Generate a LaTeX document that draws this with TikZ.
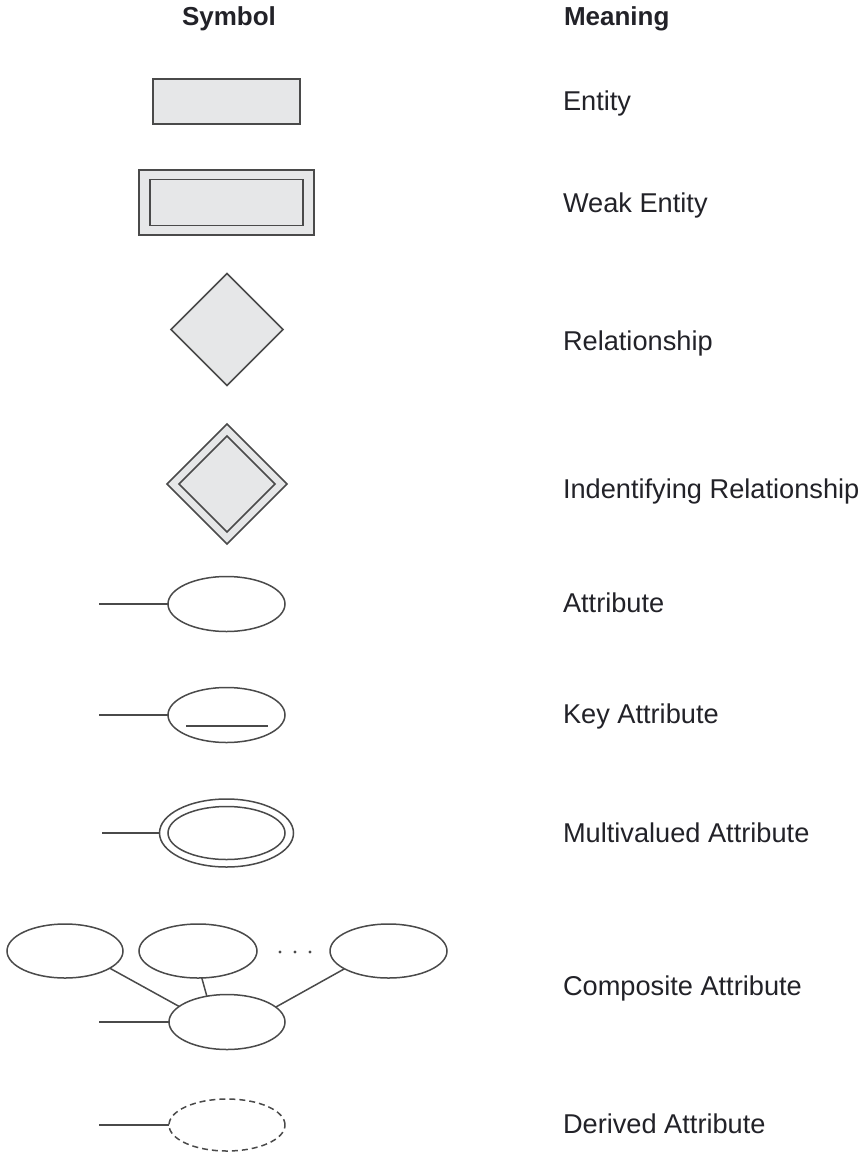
\documentclass[tikz,border=0pt]{standalone}
\usepackage{fontspec}
\setmainfont{Liberation Sans}
\usetikzlibrary{shapes.geometric}
\definecolor{strk}{HTML}{4A4A4A}
\definecolor{shade}{HTML}{E6E7E8}
\definecolor{txt}{HTML}{222228}
\begin{document}
\begin{tikzpicture}[x=1pt,y=-1pt,
  every node/.style={inner sep=0pt,outer sep=0pt},
  sym/.style={draw=strk,line width=1.5pt},
  box/.style={sym,fill=shade,rectangle},
  dia/.style={sym,fill=shade,diamond,aspect=1},
  oval/.style={sym,fill=white,ellipse,minimum width=117pt,minimum height=55pt},
  lbl/.style={anchor=base west,text=txt,font=\fontsize{27.2}{30}\selectfont},
  hdr/.style={text=txt,font=\fontsize{26}{30}\selectfont\bfseries},
  conn/.style={draw=strk,line width=1.5pt}]
\useasboundingbox (0,0) rectangle (864,1156);
% headers
\node[hdr,anchor=base] (hsym) at (229,26) {Symbol};
\node[hdr,anchor=base west] (hmean) at (564,26) {Meaning};
% entity
\node[box,minimum width=147pt,minimum height=45pt] (ent) at (226.5,101.5) {};
\node[lbl] (lent) at (563,110) {Entity};
% weak entity
\node[box,minimum width=175pt,minimum height=65pt] (went) at (226.5,202.5) {};
\node[box,minimum width=153pt,minimum height=46pt] (wenti) at (226.5,202.5) {};
\node[lbl] (lwent) at (563,212) {Weak Entity};
% relationship
\node[dia,minimum width=112pt,minimum height=112pt] (rel) at (227,329.5) {};
\node[lbl] (lrel) at (563,350) {Relationship};
% identifying relationship
\node[dia,minimum width=120pt,minimum height=120pt] (irel) at (227,484) {};
\node[dia,minimum width=96pt,minimum height=96pt] (ireli) at (227,484) {};
\node[lbl] (lirel) at (563,498) {Indentifying Relationship};
% attribute
\node[oval] (att) at (226.5,604) {};
\coordinate (attl) at (99,604);
\draw[conn] (attl) -- (att.west);
\node[lbl] (latt) at (563,612) {Attribute};
% key attribute
\node[oval] (katt) at (226.5,715) {};
\coordinate (kattl) at (99,715);
\draw[conn] (kattl) -- (katt.west);
\coordinate (ku1) at (186,726);
\coordinate (ku2) at (268,726);
\draw[conn] (ku1) -- (ku2);
\node[lbl] (lkatt) at (563,723) {Key Attribute};
% multivalued
\node[oval,minimum width=134pt,minimum height=68pt] (matt) at (226.5,833) {};
\node[oval,minimum width=117pt,minimum height=53pt] (matti) at (226.5,833) {};
\coordinate (mattl) at (102,833);
\draw[conn] (mattl) -- (matt.west);
\node[lbl] (lmatt) at (563,842) {Multivalued Attribute};
% composite
\node[oval,minimum width=116pt,minimum height=54pt] (c1) at (65,951) {};
\node[oval,minimum width=118pt,minimum height=54pt] (c2) at (198,951) {};
\node[oval,minimum width=117pt,minimum height=54pt] (c3) at (388.5,951) {};
\node[oval,minimum width=116pt,minimum height=55pt] (cm) at (227,1022) {};
\draw[conn] (c1.-21) -- (cm.162);
\draw[conn] (c2.-82) -- (cm.128);
\draw[conn] (c3.202) -- (cm.17);
\coordinate (cml) at (99,1022);
\draw[conn] (cml) -- (cm.west);
\foreach \i/\xx in {1/280,2/295,3/310}{
  \fill[strk] (\xx,952) circle (1.7pt);
}
\node[lbl] (lcatt) at (563,995) {Composite Attribute};
% derived
\node[oval,dashed,dash pattern=on 6pt off 4pt,minimum width=116pt,minimum height=52pt] (datt) at (227,1125) {};
\coordinate (dattl) at (99,1125);
\draw[conn] (dattl) -- (datt.west);
\node[lbl] (ldatt) at (563,1133) {Derived Attribute};
\end{tikzpicture}
\end{document}
